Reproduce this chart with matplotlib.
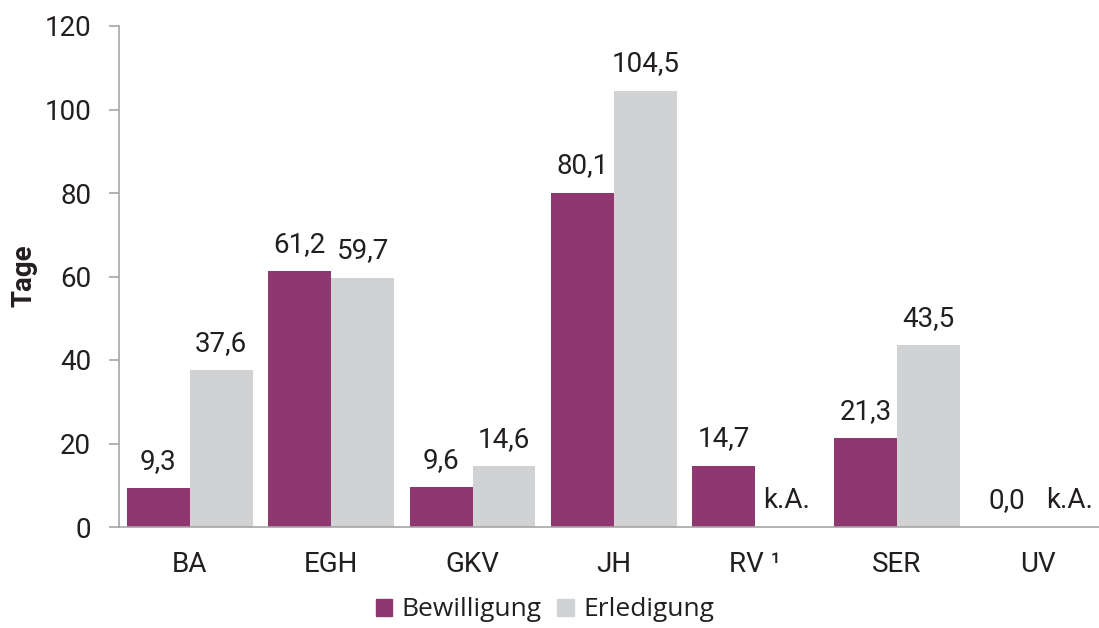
import matplotlib.pyplot as plt
import numpy as np
from matplotlib.patches import Patch

categories = ["BA", "EGH", "GKV", "JH", "RV ¹", "SER", "UV"]
bewilligung = [9.3, 61.2, 9.6, 80.1, 14.7, 21.3, 0.0]
erledigung = [37.6, 59.7, 14.6, 104.5, None, 43.5, None]

C_BEW = "#8E3770"
C_ERL = "#D1D2D4"
AX_COL = "#A6A6A6"
TXT = "#231F20"

plt.rcParams['font.family'] = ['Roboto', 'DejaVu Sans']

fig = plt.figure(figsize=(10.99, 6.28), dpi=100)
ax = fig.add_axes([119 / 1099, 1 - 527 / 628, (1099 - 119) / 1099, 501 / 628])

x = np.arange(len(categories))
w = 0.445

ax.bar(x - w / 2, bewilligung, w, color=C_BEW)
erl_vals = [v if v is not None else 0 for v in erledigung]
ax.bar(x + w / 2, erl_vals, w, color=C_ERL)

def fmt(v):
    return f"{v:.1f}".replace(".", ",")

# value labels, "k.A." where no data
for xi, v in zip(x, bewilligung):
    ax.text(xi - w / 2, v + 3.2, fmt(v), ha="center", va="bottom", fontsize=20, color=TXT)
for xi, v in zip(x, erledigung):
    if v is None:
        ax.text(xi + w / 2, 3.2, "k.A.", ha="center", va="bottom", fontsize=20, color=TXT)
    else:
        ax.text(xi + w / 2, v + 3.2, fmt(v), ha="center", va="bottom", fontsize=20, color=TXT)

ax.set_xlim(-0.5, 6.43)
ax.set_ylim(0, 120)
ax.set_yticks(range(0, 121, 20))
ax.set_xticks(x)
ax.set_xticklabels(categories)
ax.tick_params(axis="y", labelsize=20, length=7, color=AX_COL, width=1.2, pad=13, labelcolor=TXT)
ax.tick_params(axis="x", labelsize=20, length=0, pad=17, labelcolor=TXT)

for s in ["top", "right"]:
    ax.spines[s].set_visible(False)
ax.spines["left"].set_color(AX_COL)
ax.spines["bottom"].set_color(AX_COL)
ax.spines["left"].set_linewidth(1.2)
ax.spines["bottom"].set_linewidth(1.2)

fig.text(24 / 1099, 1 - 276 / 628, "Tage", rotation=90, ha="center", va="center",
         fontsize=20, fontweight="bold", color=TXT)

handles = [Patch(color=C_BEW, label="Bewilligung"), Patch(color=C_ERL, label="Erledigung")]
fig.legend(handles=handles, loc="center", bbox_to_anchor=(545 / 1099, 1 - 610 / 628), ncol=2,
           frameon=False, handlelength=0.62, handleheight=0.62, handletextpad=0.35,
           columnspacing=0.6, labelcolor=TXT,
           prop={"family": ["Open Sans", "DejaVu Sans"], "size": 19})

fig.savefig("out.png", dpi=100)
